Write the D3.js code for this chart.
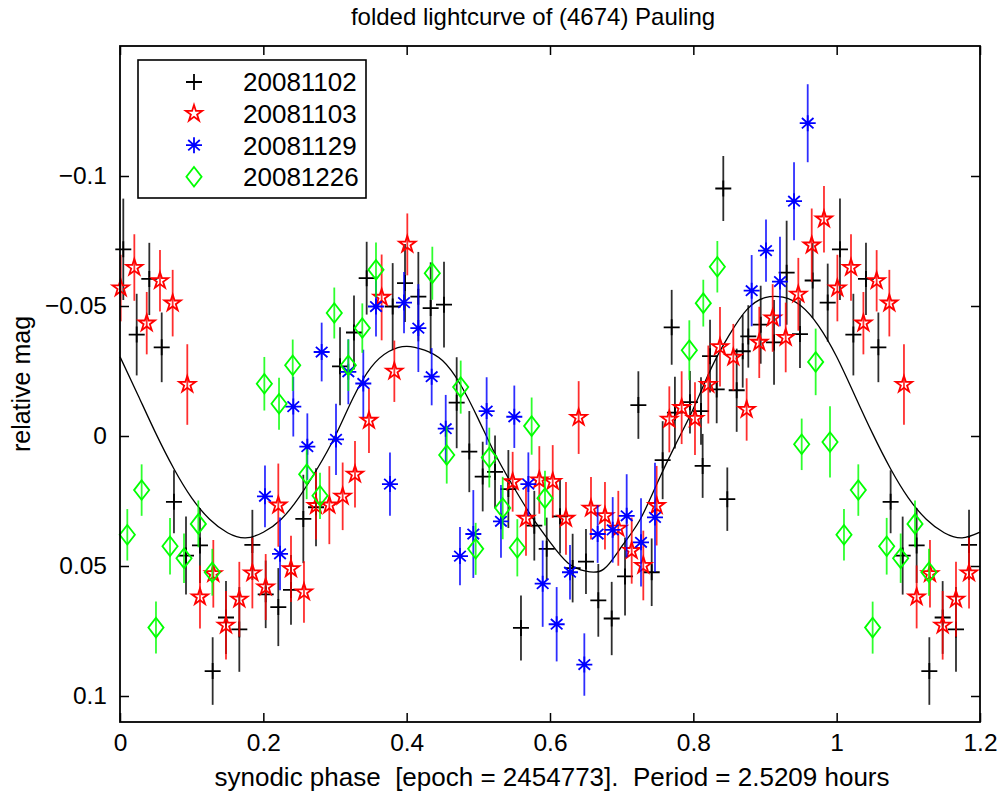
<!DOCTYPE html>
<html><head><meta charset="utf-8">
<script src="https://cdn.jsdelivr.net/npm/d3@7"></script>
<style>
body{margin:0;background:#fff}
text{font-family:Arial,"Liberation Sans",Helvetica,sans-serif;fill:#000}
</style>
</head><body>
<svg id="chart" width="1004" height="798"></svg>
<script>
// ---------- data ----------
const seriesNames = ["20081102","20081103","20081129","20081226"];
const seriesColors = ["#000000","#ff0000","#0000ff","#00ff00"];

const phase1102 = [0.0046,0.0233,0.0409,0.0582,0.0753,0.0921,0.1116,0.1293,0.1479,0.1665,0.1847,0.2033,0.2209,0.2386,0.2558,0.2735,0.3070,0.3265,0.3442,0.3805,0.3977,0.4163,0.4335,0.4521,0.4698,0.4874,0.5061,0.5233,0.5419,0.5595,0.5781,0.5954,0.6140,0.6316,0.6502,0.6674,0.6861,0.7047,0.7233,0.7419,0.7572,0.7698,0.7743,0.7953,0.8107,0.8130,0.8233,0.8326,0.8418,0.8474,0.8605,0.8689,0.8767,0.8940,0.9126,0.9302,0.9488,0.9665,0.9875];
const mag1102 = [-0.0718,-0.0390,-0.0604,-0.0341,0.0253,0.0460,0.0421,0.0904,0.0698,0.0744,0.0419,0.0609,0.0658,0.0592,0.0319,0.0274,-0.0268,-0.0398,-0.0607,-0.0498,-0.0588,-0.0536,-0.0492,-0.0505,-0.0128,0.0060,0.0156,0.0138,0.0204,0.0738,0.0345,0.0434,0.0309,0.0508,0.0483,0.0632,0.0702,0.0540,-0.0119,0.0524,0.0093,-0.0418,-0.0090,-0.0130,-0.0096,0.0115,-0.0307,-0.0179,-0.0952,0.0243,-0.0176,-0.0326,-0.0383,-0.0428,-0.0360,-0.0628,-0.0392,-0.0598,-0.0513];
const err1102 = [0.0195,0.0157,0.0139,0.0134,0.0121,0.0150,0.0144,0.0130,0.0140,0.0163,0.0135,0.0130,0.0150,0.0134,0.0170,0.0150,0.0150,0.0142,0.0140,0.0167,0.0150,0.0172,0.0176,0.0165,0.0175,0.0156,0.0134,0.0140,0.0150,0.0125,0.0134,0.0120,0.0143,0.0132,0.0125,0.0140,0.0141,0.0150,0.0130,0.0130,0.0150,0.0144,0.0138,0.0120,0.0130,0.0123,0.0140,0.0130,0.0125,0.0122,0.0160,0.0140,0.0120,0.0150,0.0163,0.0200,0.0130,0.0144,0.0150];

const phase1103 = [0.0010,0.0200,0.0373,0.0558,0.0735,0.0939,0.1116,0.1302,0.1479,0.1665,0.1847,0.2033,0.2209,0.2386,0.2567,0.2735,0.2921,0.3107,0.3279,0.3474,0.3651,0.3828,0.4009,0.5479,0.5665,0.5851,0.6038,0.6223,0.6400,0.6572,0.6767,0.6953,0.7140,0.7302,0.7488,0.7665,0.7837,0.8023,0.8209,0.8372,0.8558,0.8744,0.8920,0.9107,0.9289,0.9465,0.9652,0.9823];
const mag1103 = [-0.0569,-0.0648,-0.0434,-0.0597,-0.0511,-0.0198,0.0619,0.0530,0.0728,0.0628,0.0527,0.0581,0.0266,0.0511,0.0600,0.0268,0.0266,0.0232,0.0147,-0.0060,-0.0533,-0.0249,-0.0737,0.0176,0.0317,0.0169,0.0175,0.0317,-0.0071,0.0278,0.0307,0.0355,0.0441,0.0498,0.0268,-0.0064,-0.0109,-0.0067,-0.0198,-0.0343,-0.0303,-0.0102,-0.0360,-0.0454,-0.0379,-0.0545,-0.0734,-0.0834];
const err1103 = [0.0128,0.0128,0.0120,0.0118,0.0128,0.0155,0.0121,0.0130,0.0132,0.0144,0.0136,0.0127,0.0160,0.0127,0.0118,0.0130,0.0150,0.0130,0.0128,0.0125,0.0165,0.0118,0.0119,0.0115,0.0144,0.0130,0.0140,0.0140,0.0140,0.0120,0.0130,0.0144,0.0127,0.0134,0.0153,0.0127,0.0140,0.0140,0.0150,0.0153,0.0128,0.0120,0.0137,0.0130,0.0134,0.0140,0.0141,0.0128];

const phase1129 = [0.2023,0.2233,0.2418,0.2614,0.2814,0.3014,0.3186,0.3395,0.3572,0.3767,0.3963,0.4163,0.4349,0.4545,0.4744,0.4930,0.5116,0.5316,0.5502,0.5698,0.5898,0.6093,0.6279,0.6479,0.6665,0.6875,0.7070,0.7270,0.7465,0.8814,0.9014,0.9209,0.9405,0.9596];
const mag1129 = [0.0232,0.0453,-0.0113,0.0041,-0.0323,0.0013,-0.0247,-0.0202,-0.0498,0.0185,-0.0513,-0.0415,-0.0228,-0.0028,0.0462,0.0377,-0.0096,0.0328,-0.0074,0.0185,0.0568,0.0724,0.0524,0.0879,0.0377,0.0361,0.0307,0.0409,0.0313,-0.0559,-0.0713,-0.0594,-0.0903,-0.1203];
const err1129 = [0.0119,0.0140,0.0115,0.0128,0.0113,0.0137,0.0125,0.0130,0.0115,0.0122,0.0118,0.0169,0.0110,0.0130,0.0112,0.0169,0.0130,0.0140,0.0120,0.0122,0.0166,0.0143,0.0105,0.0120,0.0111,0.0126,0.0160,0.0170,0.0210,0.0137,0.0120,0.0172,0.0150,0.0150];

const phase1226 = [0.0102,0.0302,0.0502,0.0698,0.0893,0.1093,0.1288,0.2014,0.2219,0.2410,0.2605,0.2791,0.2990,0.3186,0.3381,0.3572,0.4358,0.4559,0.4754,0.4963,0.5153,0.5340,0.5544,0.5744,0.5930,0.7944,0.8139,0.8335,0.9512,0.9707,0.9907];
const mag1226 = [0.0380,0.0208,0.0737,0.0424,0.0470,0.0338,0.0524,-0.0201,-0.0124,-0.0272,0.0147,0.0230,-0.0473,-0.0272,-0.0415,-0.0639,-0.0626,0.0073,-0.0188,0.0434,0.0083,0.0277,0.0430,-0.0038,0.0239,-0.0330,-0.0511,-0.0651,0.0032,-0.0285,0.0023];
const err1226 = [0.0099,0.0099,0.0100,0.0109,0.0095,0.0090,0.0090,0.0103,0.0100,0.0099,0.0096,0.0089,0.0098,0.0099,0.0095,0.0105,0.0102,0.0110,0.0102,0.0100,0.0115,0.0120,0.0110,0.0110,0.0105,0.0115,0.0090,0.0099,0.0099,0.0128,0.0137];

// fitted lightcurve
const fitPhase = [0,0.025,0.05,0.075,0.1,0.125,0.15,0.175,0.2,0.225,0.25,0.275,0.3,0.325,0.35,0.375,0.4,0.425,0.45,0.475,0.5,0.525,0.55,0.575,0.6,0.625,0.65,0.675,0.7,0.725,0.75,0.775,0.8,0.825,0.85,0.875,0.9,0.925,0.95,0.975,1.0];
const fitMag = [-0.0305,-0.0158,-0.0010,0.0125,0.0238,0.0320,0.0372,0.0392,0.0370,0.0320,0.0235,0.0127,0.0002,-0.0145,-0.0263,-0.0325,-0.0345,-0.0330,-0.0290,-0.0198,-0.0065,0.0078,0.0200,0.0312,0.0408,0.0488,0.0520,0.0512,0.0425,0.0325,0.0179,0.0034,-0.0105,-0.0261,-0.0388,-0.0487,-0.0532,-0.0534,-0.0501,-0.0423,-0.0305];

const xTicks = [0,0.2,0.4,0.6,0.8,1,1.2];
const xTickLabels = ["0","0.2","0.4","0.6","0.8","1","1.2"];
const yTicks = [-0.1,-0.05,0,0.05,0.1];
const yTickLabels = ["\u22120.1","\u22120.05","0","0.05","0.1"];
const titleText = "folded lightcurve of (4674) Pauling";
const xLabelText = "synodic phase  [epoch = 2454773].  Period = 2.5209 hours";
const yLabelText = "relative mag";

// ---------- layout ----------
const svg = d3.select("#chart");
const L = 120, R = 980, T = 46, B = 722;
const x = d3.scaleLinear().domain([0,1.2]).range([L,R]);
const y = d3.scaleLinear().domain([-0.15,0.11]).range([T,B]);

const series = [
  {name:seriesNames[0], color:seriesColors[0], shape:"plus",    ph:phase1102, mg:mag1102, er:err1102},
  {name:seriesNames[1], color:seriesColors[1], shape:"star",    ph:phase1103, mg:mag1103, er:err1103},
  {name:seriesNames[2], color:seriesColors[2], shape:"asterisk",ph:phase1129, mg:mag1129, er:err1129},
  {name:seriesNames[3], color:seriesColors[3], shape:"diamond", ph:phase1226, mg:mag1226, er:err1226}
];

function expand(s){
  const out=[];
  s.ph.forEach((p,i)=>{
    out.push({p:p, m:s.mg[i], e:s.er[i]});
    if (p+1 <= 1.2) out.push({p:p+1, m:s.mg[i], e:s.er[i]});
  });
  return out;
}

function markerPath(shape){
  if (shape==="plus") return "M-8,0H8M0,-8V8";
  if (shape==="asterisk") return "M-8,0H8M0,-8V8M-5.8,-5.2L5.8,5.2M-5.8,5.2L5.8,-5.2";
  if (shape==="diamond") return "M0,-9.8L7.6,0L0,9.8L-7.6,0Z";
  if (shape==="star"){
    const Ro=8.6, Ri=Ro*0.382; let d="";
    for(let k=0;k<10;k++){
      const r = k%2===0?Ro:Ri;
      const a = -Math.PI/2 + k*Math.PI/5;
      d += (k===0?"M":"L") + (r*Math.cos(a)).toFixed(2) + "," + (r*Math.sin(a)).toFixed(2);
    }
    return d+"Z";
  }
}

// ---------- fitted curve ----------
const fitPts = [];
fitPhase.forEach((p,i)=>fitPts.push([p, fitMag[i]]));
fitPhase.forEach((p,i)=>{ if (p>0 && p+1<=1.2) fitPts.push([p+1, fitMag[i]]); });
svg.append("path")
  .attr("d", d3.line().x(d=>x(d[0])).y(d=>y(d[1])).curve(d3.curveNatural)(fitPts))
  .attr("fill","none").attr("stroke","#000").attr("stroke-width",1.3);

// ---------- data series ----------
series.forEach(s=>{
  const pts = expand(s);
  const g = svg.append("g");
  g.selectAll("line.eb").data(pts).enter().append("line")
    .attr("x1",d=>x(d.p)).attr("x2",d=>x(d.p))
    .attr("y1",d=>y(d.m-d.e)).attr("y2",d=>y(d.m+d.e))
    .attr("stroke",s.color).attr("stroke-opacity",0.82).attr("stroke-width",1.8);
  g.selectAll("path.mk").data(pts).enter().append("path")
    .attr("transform",d=>`translate(${x(d.p)},${y(d.m)})`)
    .attr("d",markerPath(s.shape))
    .attr("fill","none").attr("stroke",s.color).attr("stroke-width",1.8)
    .attr("stroke-linejoin","miter");
});

// ---------- axes ----------
const fs = 24.5;
const axB = svg.append("g").attr("transform",`translate(0,${B})`)
  .call(d3.axisBottom(x).tickValues(xTicks).tickSize(-9).tickPadding(12).tickFormat((d,i)=>xTickLabels[i]));
const axT = svg.append("g").attr("transform",`translate(0,${T})`)
  .call(d3.axisTop(x).tickValues(xTicks).tickSize(-9).tickFormat(""));
const axL = svg.append("g").attr("transform",`translate(${L},0)`)
  .call(d3.axisLeft(y).tickValues(yTicks).tickSize(-9).tickPadding(13).tickFormat((d,i)=>yTickLabels[i]));
const axR = svg.append("g").attr("transform",`translate(${R},0)`)
  .call(d3.axisRight(y).tickValues(yTicks).tickSize(-9).tickFormat(""));
[axB,axT,axL,axR].forEach(a=>{
  a.select(".domain").remove();
  a.selectAll(".tick line").attr("stroke","#000").attr("stroke-width",1.5);
  a.selectAll("text").attr("font-size",fs).attr("font-family",null).style("fill","#000");
});

svg.append("rect").attr("x",L).attr("y",T).attr("width",R-L).attr("height",B-T)
  .attr("fill","none").attr("stroke","#000").attr("stroke-width",1.8);

// ---------- titles ----------
svg.append("text").attr("x",533).attr("y",25).attr("text-anchor","middle")
  .attr("font-size",24).text(titleText);
svg.append("text").attr("x",552).attr("y",786).attr("text-anchor","middle")
  .attr("font-size",26).style("white-space","pre").text(xLabelText);
svg.append("text").attr("transform",`translate(30,${(T+B)/2}) rotate(-90)`)
  .attr("text-anchor","middle").attr("font-size",25).text(yLabelText);

// ---------- legend ----------
const lg = svg.append("g");
lg.append("rect").attr("x",138).attr("y",60).attr("width",228).attr("height",138)
  .attr("fill","#fff").attr("stroke","#000").attr("stroke-width",1.6);
series.forEach((s,i)=>{
  const yy = 82 + i*31.6;
  lg.append("path").attr("transform",`translate(194,${yy})`).attr("d",markerPath(s.shape))
    .attr("fill","none").attr("stroke",s.color).attr("stroke-width",1.8);
  lg.append("text").attr("x",243).attr("y",yy).attr("dy","0.36em").attr("font-size",26).text(s.name);
});
</script>
</body></html>
